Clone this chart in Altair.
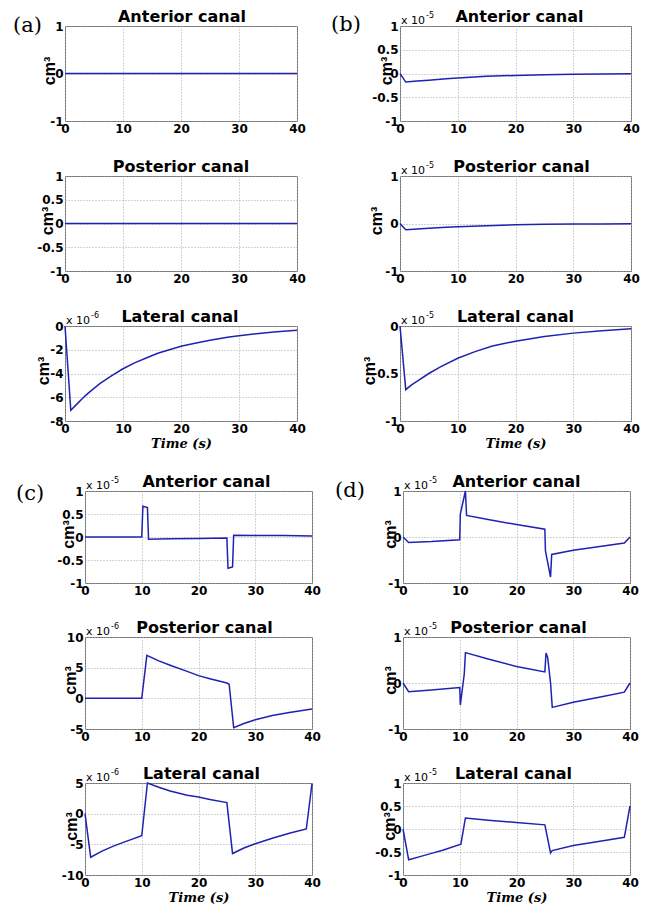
import altair as alt
import pandas as pd

# ---------------- data (values in the units shown on each axis) ----------------
XTICKS = [0, 10, 20, 30, 40]

A_ANT_T = [0, 40]
A_ANT_V = [0, 0]
A_POST_T = [0, 40]
A_POST_V = [0, 0]
A_LAT_T = [0, 1, 2, 3, 4, 5, 6, 8, 10, 12, 14, 16, 18, 20, 22, 25, 28, 30, 33, 36, 40]
A_LAT_V = [0, -7.1, -6.6, -6.1, -5.65, -5.25, -4.85, -4.2, -3.6, -3.1, -2.7, -2.3, -2.0,
           -1.7, -1.5, -1.2, -0.95, -0.82, -0.65, -0.5, -0.35]

B_ANT_T = [0, 1, 3, 5, 8, 10, 15, 20, 25, 30, 35, 40]
B_ANT_V = [0, -0.18, -0.16, -0.14, -0.11, -0.095, -0.06, -0.04, -0.025, -0.015, -0.01, -0.005]
B_POST_T = [0, 1, 3, 5, 8, 10, 15, 20, 25, 30, 35, 40]
B_POST_V = [0, -0.13, -0.115, -0.1, -0.08, -0.068, -0.045, -0.028, -0.018, -0.012, -0.008, -0.005]
B_LAT_T = [0, 1, 2, 3, 5, 7, 10, 13, 16, 20, 25, 30, 35, 40]
B_LAT_V = [0, -0.67, -0.62, -0.58, -0.5, -0.43, -0.34, -0.27, -0.21, -0.16, -0.11, -0.075, -0.05, -0.03]

C_ANT_T = [0, 10, 10.2, 11, 11.2, 15, 20, 25, 25.2, 26, 26.2, 30, 35, 40]
C_ANT_V = [0, 0, 0.67, 0.64, -0.05, -0.04, -0.03, -0.02, -0.68, -0.65, 0.04, 0.035, 0.03, 0.02]
C_POST_T = [0, 10, 10.9, 13, 15, 18, 20, 22, 25, 25.4, 26.2, 28, 30, 33, 36, 40]
C_POST_V = [0, 0, 7.0, 6.1, 5.4, 4.4, 3.7, 3.2, 2.5, 2.3, -4.8, -4.1, -3.5, -2.8, -2.3, -1.75]
C_LAT_T = [0, 1, 3, 5, 7, 10, 11, 13, 15, 18, 20, 22, 25, 26, 28, 30, 33, 36, 39, 40]
C_LAT_V = [0, -7.1, -6.1, -5.3, -4.6, -3.6, 5.0, 4.3, 3.7, 3.0, 2.7, 2.3, 1.8, -6.5, -5.6,
           -4.9, -4.0, -3.2, -2.5, 4.9]

D_ANT_T = [0, 1, 5, 10, 10.1, 11, 11.2, 15, 20, 25, 25.1, 26, 26.2, 30, 35, 39, 40]
D_ANT_V = [0, -0.12, -0.1, -0.06, 0.5, 1.0, 0.47, 0.38, 0.27, 0.17, -0.3, -0.87, -0.38,
           -0.29, -0.2, -0.13, 0]
D_POST_T = [0, 1, 5, 10, 10.1, 10.8, 11, 15, 20, 25, 25.2, 25.5, 26, 26.3, 30, 35, 39, 40]
D_POST_V = [0, -0.19, -0.15, -0.1, -0.48, 0.2, 0.66, 0.52, 0.36, 0.24, 0.65, 0.55, 0.0,
            -0.53, -0.42, -0.3, -0.2, 0]
D_LAT_T = [0, 1, 3, 5, 7, 10.2, 11, 15, 20, 25, 26, 26.3, 30, 35, 39, 40]
D_LAT_V = [0, -0.67, -0.6, -0.53, -0.46, -0.33, 0.24, 0.19, 0.14, 0.09, -0.52, -0.47,
           -0.36, -0.26, -0.18, 0.5]

BLUE = "#1f22b0"
GRID = "#a8a8a8"


def text_layer(s, x, y, font, size, weight="normal", align="left", style="normal"):
    return alt.Chart(pd.DataFrame({"s": [s]})).mark_text(
        font=font, fontSize=size, fontWeight=weight, fontStyle=style, align=align,
        baseline="alphabetic", color="black"
    ).encode(x=alt.value(x), y=alt.value(y), text="s:N")


def panel(t, v, title, domain, yticks, w, h, title_x, title_dx,
          label=None, label_xy=None, exp=None, xtitle=False):
    df = pd.DataFrame({"t": t, "v": v})
    x_axis = alt.Axis(values=XTICKS, labelExpr="'' + datum.value",
                      labelFont="DejaVu Sans", labelFontWeight="bold", labelFontSize=12,
                      labelColor="black", labelPadding=2, labelFlush=False,
                      ticks=False, domain=False, grid=True, gridColor=GRID,
                      gridDash=[1, 2], gridWidth=1,
                      title="Time (s)" if xtitle else None,
                      titleFont="DejaVu Serif", titleFontStyle="italic",
                      titleFontWeight="bold", titleFontSize=13, titleColor="black",
                      titleY=26, titleBaseline="alphabetic")
    y_axis = alt.Axis(values=yticks, labelExpr="'' + datum.value",
                      labelFont="DejaVu Sans", labelFontWeight="bold", labelFontSize=12,
                      labelColor="black", labelPadding=2, labelFlush=False,
                      ticks=False, domain=False, grid=True, gridColor=GRID,
                      gridDash=[1, 2], gridWidth=1,
                      title="cm³", titleFont="Liberation Sans", titleFontWeight="bold",
                      titleFontSize=16, titleColor="black", titleAngle=270,
                      titleX=title_x - 2, titleY=h / 2 - 3, titleAlign="center",
                      titleBaseline="alphabetic")
    line = alt.Chart(df).mark_line(color=BLUE, strokeWidth=1.5).encode(
        x=alt.X("t:Q", scale=alt.Scale(domain=[0, 40], nice=False), axis=x_axis),
        y=alt.Y("v:Q", scale=alt.Scale(domain=domain, nice=False, zero=False), axis=y_axis),
    )
    layers = [line,
              text_layer(title, w / 2 + title_dx, -4, "DejaVu Sans", 16, weight="bold",
                         align="center")]
    if label:
        layers.append(text_layer(label, label_xy[0], label_xy[1], "DejaVu Serif", 21))
    if exp:
        layers.append(text_layer("x 10", 1, -2, "DejaVu Sans", 11))
        layers.append(text_layer(exp, 26, -8, "DejaVu Sans", 8))
    return alt.layer(*layers).properties(width=w, height=h)


WL, WR, HT = 232, 231, 95
WB, HB = 227, 92

a1 = panel(A_ANT_T, A_ANT_V, "Anterior canal", [-1, 1], [-1, 0, 1], WL, HT, -9, 1,
           label="(a)", label_xy=(-52, 6))
b1 = panel(B_ANT_T, B_ANT_V, "Anterior canal", [-1, 1], [-1, -0.5, 0, 0.5, 1], WR, HT, -7, 4,
           label="(b)", label_xy=(-69, 5), exp="-5")
a2 = panel(A_POST_T, A_POST_V, "Posterior canal", [-1, 1], [-1, -0.5, 0, 0.5, 1], WL, HT, -11, 0)
b2 = panel(B_POST_T, B_POST_V, "Posterior canal", [-1, 1], [-1, 0, 1], WR, HT, -17, 6, exp="-5")
a3 = panel(A_LAT_T, A_LAT_V, "Lateral canal", [-8, 0], [-8, -6, -4, -2, 0], WL, HT, -15, -1,
           exp="-6", xtitle=True)
b3 = panel(B_LAT_T, B_LAT_V, "Lateral canal", [-1, 0], [-1, -0.5, 0], WR, HT, -24, 0,
           exp="-5", xtitle=True)

c1 = panel(C_ANT_T, C_ANT_V, "Anterior canal", [-1, 1], [-1, -0.5, 0, 0.5, 1], WB, HB, -10, 8,
           label="(c)", label_xy=(-69, 9), exp="-5")
d1 = panel(D_ANT_T, D_ANT_V, "Anterior canal", [-1, 1], [-1, 0, 1], WB, HB, -6, 0,
           label="(d)", label_xy=(-68, 6), exp="-5")
c2 = panel(C_POST_T, C_POST_V, "Posterior canal", [-5, 10], [-5, 0, 5, 10], WB, HB, -8, 6, exp="-6")
d2 = panel(D_POST_T, D_POST_V, "Posterior canal", [-1, 1], [-1, 0, 1], WB, HB, -6, 2, exp="-5")
c3 = panel(C_LAT_T, C_LAT_V, "Lateral canal", [-10, 5], [-10, -5, 0, 5], WB, HB, -7, 3,
           exp="-6", xtitle=True)
d3 = panel(D_LAT_T, D_LAT_V, "Lateral canal", [-1, 1], [-1, -0.5, 0, 0.5, 1], WB, HB, -7, -3,
           exp="-5", xtitle=True)


def spacer(w):
    return alt.Chart(pd.DataFrame({"s": [0]})).mark_rect(opacity=0).encode(
        x=alt.value(0), x2=alt.value(w), y=alt.value(0), y2=alt.value(1)
    ).properties(width=w, height=1, view=alt.ViewBackground(stroke=None))


top = alt.concat(a1, b1, a2, b2, a3, b3, columns=2,
                 spacing={"row": 55, "column": 103}, bounds="flush")
bottom = alt.concat(c1, d1, c2, d2, c3, d3, columns=2,
                    spacing={"row": 54, "column": 91}, bounds="flush")

chart = alt.vconcat(
    alt.hconcat(spacer(4), top, spacing=0),
    alt.hconcat(spacer(7), bottom, spacing=0),
    spacing=22,
).properties(padding=0).configure_view(stroke="#6e6e6e", strokeWidth=1)

chart.save("out.html", embed_options={"renderer": "svg", "actions": False})
